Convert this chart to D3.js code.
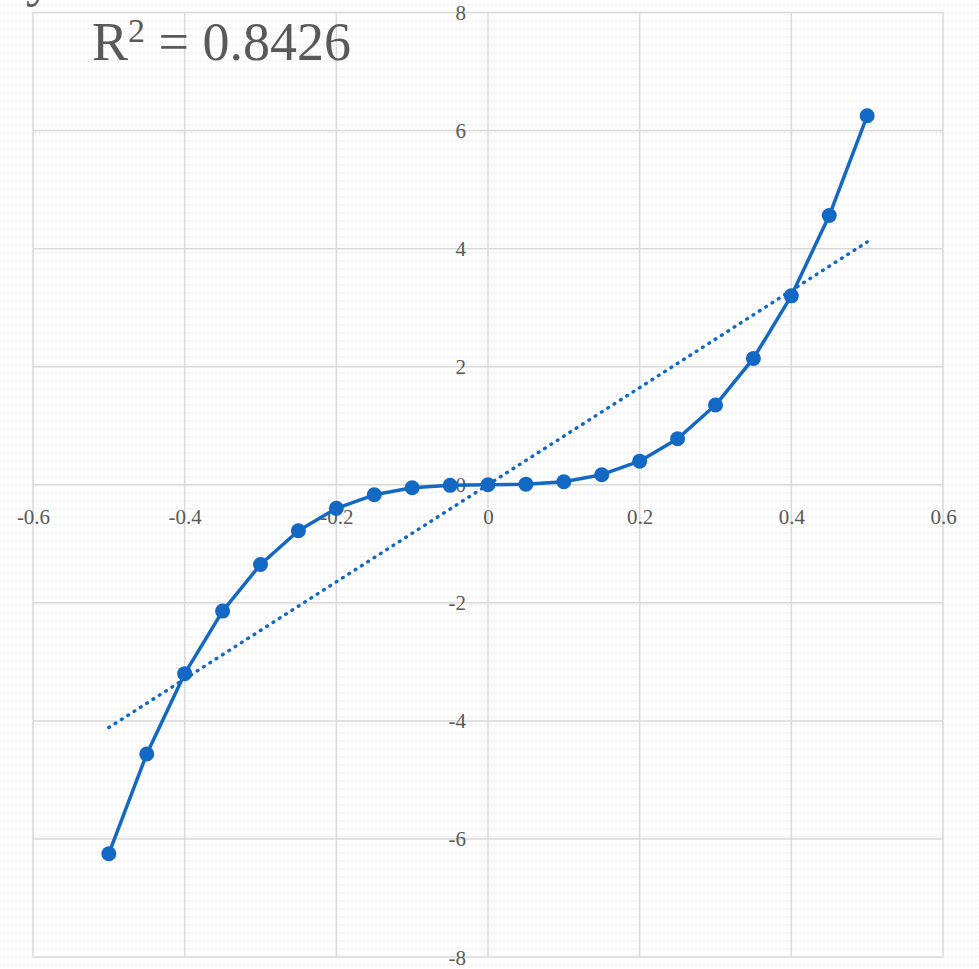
<!DOCTYPE html>
<html>
<head>
<meta charset="utf-8">
<script src="https://cdn.jsdelivr.net/npm/d3@7"></script>
<style>
  html, body { margin: 0; padding: 0; background: #fff; }
  svg { display: block; }
  .tick text { font-family: "Liberation Serif", "DejaVu Serif", serif; fill: #595959; }
</style>
</head>
<body>
<svg id="chart" width="979" height="969"></svg>
<script>
// Sample points of the curve
const xValues = [-0.5, -0.45, -0.4, -0.35, -0.3, -0.25, -0.2, -0.15, -0.1, -0.05, 0,
                 0.05, 0.1, 0.15, 0.2, 0.25, 0.3, 0.35, 0.4, 0.45, 0.5];
const yValues = [-6.25, -4.56, -3.2, -2.14, -1.35, -0.78, -0.4, -0.17, -0.05, -0.01, 0,
                 0.01, 0.05, 0.17, 0.4, 0.78, 1.35, 2.14, 3.2, 4.56, 6.25];

// Axis ticks and labels
const xTicks = [-0.6, -0.4, -0.2, 0, 0.2, 0.4, 0.6];
const xTickLabels = ["-0.6", "-0.4", "-0.2", "0", "0.2", "0.4", "0.6"];
const yTicks = [-8, -6, -4, -2, 0, 2, 4, 6, 8];
const yTickLabels = ["-8", "-6", "-4", "-2", "0", "2", "4", "6", "8"];

// Goodness of fit of the linear trendline
const rSquared = "0.8426";

const blue = "#1368c4";
const grid = "#d9d9d9";

const svg = d3.select("#chart");

// Wavy paper texture behind everything
const defs = svg.append("defs");
const pat = defs.append("pattern")
  .attr("id", "wave").attr("patternUnits", "userSpaceOnUse")
  .attr("width", 8).attr("height", 8);
pat.append("rect").attr("width", 8).attr("height", 8).attr("fill", "#ffffff");
pat.append("path")
  .attr("d", "M0,6 Q2,1.5 4,6 Q6,1.5 8,6")
  .attr("fill", "none").attr("stroke", "#f1f1f1").attr("stroke-width", 1.1);
svg.append("rect").attr("width", 979).attr("height", 969).attr("fill", "url(#wave)");

const x = d3.scaleLinear().domain([-0.6, 0.6]).range([33, 943]);
const y = d3.scaleLinear().domain([-8, 8]).range([957, 12.5]);

// Gridlines
const gGrid = svg.append("g");
gGrid.selectAll("line.v").data(xTicks).join("line")
  .attr("x1", d => x(d)).attr("x2", d => x(d))
  .attr("y1", y(8)).attr("y2", y(-8))
  .attr("stroke", grid).attr("stroke-width", 1.5);
gGrid.selectAll("line.h").data(yTicks).join("line")
  .attr("x1", x(-0.6)).attr("x2", x(0.6))
  .attr("y1", d => y(d)).attr("y2", d => y(d))
  .attr("stroke", grid).attr("stroke-width", 1.5);

// Axes crossing at the origin, labels only
const xAxis = svg.append("g")
  .attr("transform", `translate(0,${y(0)})`)
  .call(d3.axisBottom(x).tickValues(xTicks).tickSize(0)
        .tickFormat((d, i) => xTickLabels[i]));
xAxis.select(".domain").remove();
xAxis.selectAll(".tick text")
  .attr("y", 0).attr("dy", 39).attr("font-size", 21);

const yAxis = svg.append("g")
  .attr("transform", `translate(${x(0)},0)`)
  .call(d3.axisLeft(y).tickValues(yTicks).tickSize(0)
        .tickFormat((d, i) => yTickLabels[i]));
yAxis.select(".domain").remove();
yAxis.selectAll(".tick text")
  .attr("x", -22).attr("dy", 7).attr("font-size", 21);

// Linear least-squares trendline
const n = xValues.length;
const mx = d3.mean(xValues), my = d3.mean(yValues);
let sxy = 0, sxx = 0;
for (let i = 0; i < n; i++) {
  sxy += (xValues[i] - mx) * (yValues[i] - my);
  sxx += (xValues[i] - mx) ** 2;
}
const slope = sxy / sxx;
const intercept = my - slope * mx;
const xExtent = d3.extent(xValues);

svg.append("line")
  .attr("x1", x(xExtent[0])).attr("y1", y(slope * xExtent[0] + intercept))
  .attr("x2", x(xExtent[1])).attr("y2", y(slope * xExtent[1] + intercept))
  .attr("stroke", blue).attr("stroke-width", 3.4)
  .attr("stroke-linecap", "round").attr("stroke-dasharray", "0.8 6.7");

// Data series
const pts = xValues.map((v, i) => [v, yValues[i]]);
svg.append("path")
  .datum(pts)
  .attr("fill", "none").attr("stroke", blue).attr("stroke-width", 3.5)
  .attr("stroke-linejoin", "round")
  .attr("d", d3.line().x(d => x(d[0])).y(d => y(d[1])));
svg.selectAll("circle.pt").data(pts).join("circle")
  .attr("cx", d => x(d[0])).attr("cy", d => y(d[1]))
  .attr("r", 7.5).attr("fill", blue);

// Trendline label
const lab = svg.append("text")
  .attr("font-family", "'Liberation Serif', 'DejaVu Serif', serif")
  .attr("fill", "#595959").attr("font-size", 54);
lab.append("tspan").attr("x", 26).attr("y", -5)
  .text(`y = ${d3.format(".3~f")(slope)}x + ${d3.format(".0e")(Math.abs(intercept) || 0)}`);
const r2 = lab.append("tspan").attr("x", 92).attr("y", 60);
r2.append("tspan").text("R");
r2.append("tspan").attr("dy", -18).attr("font-size", 34).text("2");
r2.append("tspan").attr("dy", 18).text(" = " + rSquared);
</script>
</body>
</html>
